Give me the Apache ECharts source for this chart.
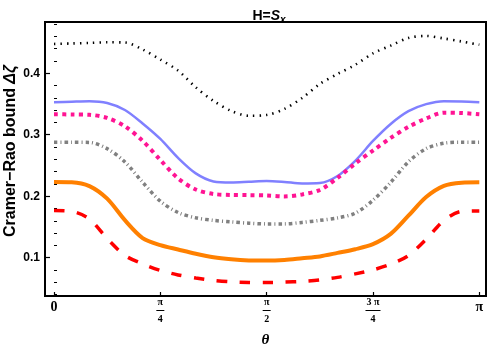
<!DOCTYPE html>
<html><head><meta charset="utf-8">
<script src="https://cdn.jsdelivr.net/npm/echarts@6/dist/echarts.min.js"></script>
<style>html,body{margin:0;padding:0;background:#fff}#c{width:494px;height:352px}</style>
</head><body><div id="c"></div>
<script>
// θ sampled at k·π/24, k = 0..24
const thetaDivisions = 24;
const blackDotted = [0.4477,0.4485,0.4493,0.4504,0.4500,0.4387,0.4223,0.4044,0.3771,0.3550,0.3387,0.3309,0.3322,0.3420,0.3598,0.3826,0.3989,0.4137,0.4324,0.4450,0.4574,0.4607,0.4566,0.4517,0.4465];
const blueSolid   = [0.3528,0.3538,0.3546,0.3517,0.3403,0.3184,0.2932,0.2623,0.2371,0.2241,0.2224,0.2236,0.2249,0.2233,0.2208,0.2216,0.2330,0.2576,0.2899,0.3176,0.3384,0.3498,0.3546,0.3541,0.3528];
const magentaDot  = [0.3333,0.3330,0.3325,0.3273,0.3137,0.2901,0.2590,0.2291,0.2109,0.2037,0.2021,0.2018,0.2013,0.1997,0.2029,0.2102,0.2298,0.2532,0.2743,0.2948,0.3128,0.3265,0.3359,0.3354,0.3333];
const grayDashDot = [0.2878,0.2878,0.2875,0.2774,0.2558,0.2228,0.1919,0.1735,0.1649,0.1607,0.1582,0.1561,0.1550,0.1550,0.1574,0.1607,0.1647,0.1724,0.1935,0.2225,0.2561,0.2774,0.2862,0.2878,0.2878];
const orangeSolid = [0.2232,0.2228,0.2165,0.1960,0.1610,0.1320,0.1205,0.1134,0.1065,0.1007,0.0974,0.0956,0.0953,0.0964,0.0992,0.1021,0.1078,0.1138,0.1221,0.1387,0.1683,0.1987,0.2169,0.2221,0.2228];
const redDashed   = [0.1766,0.1753,0.1629,0.1310,0.1037,0.0899,0.0793,0.0720,0.0671,0.0631,0.0607,0.0598,0.0595,0.0603,0.0615,0.0639,0.0680,0.0737,0.0802,0.0895,0.1035,0.1300,0.1605,0.1753,0.1761];

const xTickValues = [0, Math.PI/4, Math.PI/2, 3*Math.PI/4, Math.PI];
const xTickLabels = ['0', 'π/4', 'π/2', '3 π/4', 'π'];
const yTickValues = [0.1, 0.2, 0.3, 0.4];
const yMinorTicks = [0.04,0.06,0.08,0.12,0.14,0.16,0.18,0.22,0.24,0.26,0.28,0.32,0.34,0.36,0.38,0.42,0.44,0.46,0.48];

function pairs(arr){ return arr.map((v,k)=>[k*Math.PI/thetaDivisions, v]); }

function xLabel(v){
  let i = xTickValues.findIndex(t => Math.abs(t - v) < 1e-6);
  if (i < 0) return '';
  const s = xTickLabels[i];
  if (s.indexOf('/') < 0) return '{s|' + s + '}';
  const [num, den] = s.split('/');
  return '{n|' + num + '}\n' + (num.length > 1 ? '{bar2| }' : '{bar| }') + '\n{d|' + den + '}';
}

const chart = echarts.init(document.getElementById('c'), null, {renderer:'canvas'});
const fr = {fontFamily:'Liberation Serif', fontWeight:'bold', color:'#000'};
chart.setOption({
  animation:false,
  backgroundColor:'#fff',
  title:{
    text:'{a|H=}{b|S}{c|x}',
    left:264, top:2, textAlign:'center',
    textStyle:{rich:{
      a:{fontFamily:'Liberation Sans', fontWeight:'bold', fontSize:14, color:'#000', lineHeight:18},
      b:{fontFamily:'Liberation Sans', fontWeight:'bold', fontStyle:'italic', fontSize:14, color:'#000', lineHeight:18},
      c:{fontFamily:'Liberation Sans', fontWeight:'bold', fontStyle:'italic', fontSize:10, color:'#000', lineHeight:18, verticalAlign:'bottom', padding:[7,0,0,0]}
    }}
  },
  grid:{left:45, right:8, top:22, bottom:56, outerBoundsMode:'none', containLabel:false,
    show:true, borderColor:'#000', borderWidth:2, backgroundColor:'transparent'},
  xAxis:{
    type:'value', min:-0.0665, max:3.191,
    name:'θ', nameLocation:'middle', nameGap:37, nameMoveOverlap:false,
    nameTextStyle:{fontFamily:'Liberation Serif', fontWeight:'bold', fontStyle:'italic', fontSize:15, color:'#000'},
    axisLine:{show:true, onZero:false, lineStyle:{color:'#000', width:2}},
    axisTick:{show:true, inside:true, length:4, customValues:xTickValues, lineStyle:{color:'#000', width:1.2}},
    splitLine:{show:false},
    axisLabel:{
      show:true, margin:1, customValues:xTickValues, formatter:xLabel,
      rich:{
        s:Object.assign({fontSize:14, lineHeight:20}, fr),
        n:Object.assign({fontSize:10, lineHeight:10}, fr),
        d:Object.assign({fontSize:10, lineHeight:10}, fr),
        bar:{width:8, height:1, backgroundColor:'#000', fontSize:1, lineHeight:7},
        bar2:{width:15, height:1, backgroundColor:'#000', fontSize:1, lineHeight:7}
      }
    }
  },
  yAxis:[{
    type:'value', min:0.0377, max:0.4834,
    name:'{a|Cramer−Rao bound }{b|Δζ}', nameLocation:'middle', nameGap:25, nameRotate:90, nameMoveOverlap:false,
    nameTextStyle:{padding:[0,0,0,16], rich:{
      a:{fontFamily:'Liberation Sans', fontWeight:'bold', fontSize:16, lineHeight:18, color:'#000'},
      b:{fontFamily:'Liberation Sans', fontWeight:'bold', fontStyle:'italic', fontSize:16, lineHeight:18, color:'#000'}
    }},
    axisLine:{show:true, onZero:false, lineStyle:{color:'#000', width:2}},
    axisTick:{show:true, inside:true, length:5, customValues:yTickValues, lineStyle:{color:'#000', width:1.2}},
    splitLine:{show:false},
    axisLabel:{show:true, customValues:yTickValues, margin:5, formatter:v=>v.toFixed(1),
      fontFamily:'Liberation Sans', fontWeight:'bold', fontSize:12, color:'#000'}
  },{
    type:'value', min:0.0377, max:0.4834, position:'left', offset:0,
    axisLine:{show:false},
    axisTick:{show:true, inside:true, length:3, customValues:yMinorTicks, lineStyle:{color:'#000', width:1}},
    axisLabel:{show:false}, splitLine:{show:false}
  }],
  series:[
    {name:'black', type:'line', data:pairs(blackDotted), symbol:'none', smooth:0.3,
      lineStyle:{color:'#000', width:2.6, type:[1.4,5.1], cap:'butt'}},
    {name:'blue', type:'line', data:pairs(blueSolid), symbol:'none', smooth:0.3,
      lineStyle:{color:'#8080ff', width:2.5}},
    {name:'magenta', type:'line', data:pairs(magentaDot), symbol:'none', smooth:0.3,
      lineStyle:{color:'#ff1493', width:4, type:[4,4.3], cap:'butt'}},
    {name:'gray', type:'line', data:pairs(grayDashDot), symbol:'none', smooth:0.3,
      lineStyle:{color:'#808080', width:3.5, type:[3.5,3,1,3], cap:'butt'}},
    {name:'orange', type:'line', data:pairs(orangeSolid), symbol:'none', smooth:0.3,
      lineStyle:{color:'#ff8000', width:4}},
    {name:'red', type:'line', data:pairs(redDashed), symbol:'none', smooth:0.3,
      lineStyle:{color:'#ff0000', width:3.5, type:[10.5,12.5], cap:'butt'}}
  ]
});
</script></body></html>
